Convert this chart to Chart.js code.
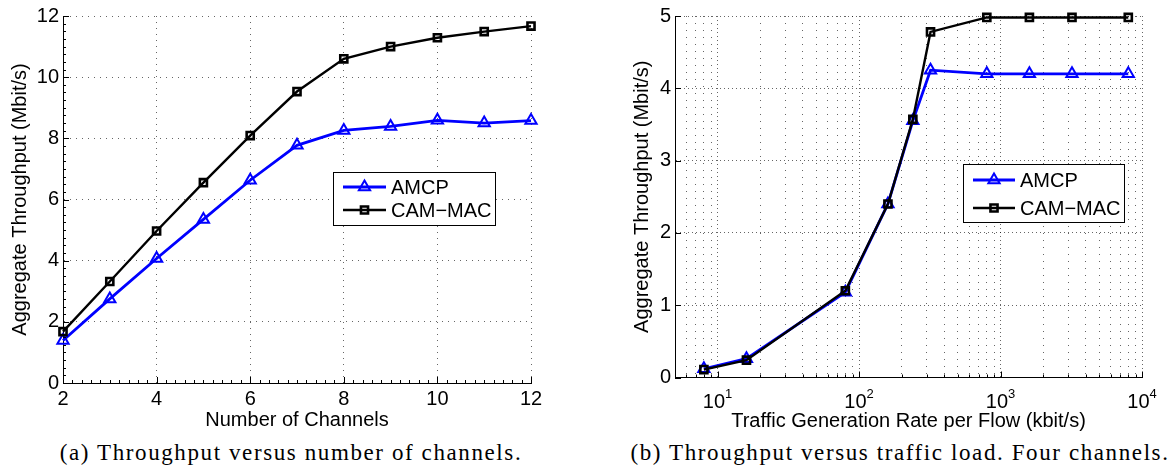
<!DOCTYPE html>
<html>
<head>
<meta charset="utf-8">
<title>Aggregate throughput</title>
<script src="https://cdn.jsdelivr.net/npm/chart.js@4"></script>
<style>
  body { margin: 0; background: #fff; width: 1174px; height: 473px; position: relative; overflow: hidden; }
  .panel { position: absolute; top: 0; width: 587px; height: 440px; }
  .caption {
    position: absolute; top: 440px; transform: translateX(-50%);
    font-family: "Liberation Serif", serif; font-size: 23px; letter-spacing: 1.6px;
    white-space: nowrap; color: #000;
  }
</style>
</head>
<body>
<div class="panel" style="left:0"><canvas id="channelChart"></canvas></div>
<div class="panel" style="left:587px"><canvas id="trafficChart"></canvas></div>
<div class="caption" style="left:291px">(a) Throughput versus number of channels.</div>
<div class="caption" style="left:900px">(b) Throughput versus traffic load. Four channels.</div>

<script>
// === (a) THROUGHPUT VS NUMBER OF CHANNELS ===
const channels = [2, 3, 4, 5, 6, 7, 8, 9, 10, 11, 12];
const amcpByChannel = [1.39, 2.75, 4.07, 5.35, 6.63, 7.77, 8.26, 8.39, 8.59, 8.50, 8.58];
const camByChannel = [1.68, 3.32, 4.97, 6.55, 8.09, 9.53, 10.60, 11.00, 11.29, 11.49, 11.67];
const channelTicks = [2, 4, 6, 8, 10, 12];
const throughputTicksA = [0, 2, 4, 6, 8, 10, 12];

// === (b) THROUGHPUT VS TRAFFIC LOAD (kbit/s, log axis) ===
const rates = [8, 16, 80, 160, 240, 320, 800, 1600, 3200, 8000];
const amcpByRate = [0.12, 0.26, 1.18, 2.40, 3.55, 4.25, 4.20, 4.20, 4.20, 4.20];
const camByRate = [0.11, 0.24, 1.20, 2.40, 3.57, 4.78, 4.98, 4.98, 4.98, 4.98];
const rateDecades = [10, 100, 1000, 10000];
const throughputTicksB = [0, 1, 2, 3, 4, 5];

const FONT = '"Liberation Sans", Arial, Helvetica, sans-serif';
Chart.defaults.font.family = FONT;
Chart.defaults.font.size = 20;
Chart.defaults.color = '#000';

function pairs(xs, ys) {
  return xs.map((x, i) => ({ x: x, y: ys[i] }));
}

// grid positions for a log axis: 1..9 in every decade
function logGridTicks(min, max) {
  let out = [];
  for (let e = Math.floor(Math.log10(min)); e <= Math.ceil(Math.log10(max)); e++) {
    for (let s = 1; s <= 9; s++) {
      let v = s * Math.pow(10, e);
      if (v >= min && v <= max) out.push({ value: v, major: s === 1 });
    }
  }
  return out;
}

// evenly spaced positions for small inward ticks
function stepMarks(min, max, step, len) {
  let out = [];
  let n = Math.round((max - min) / step);
  for (let i = 0; i <= n; i++) out.push({ value: min + i * step, len: len });
  return out;
}

// === PLUGIN: inward tick marks on the two axes ===
const innerTicks = {
  id: 'innerTicks',
  afterDraw(chart, args, opts) {
    const { ctx, chartArea: a, scales } = chart;
    ctx.save();
    ctx.strokeStyle = '#000';
    ctx.lineWidth = 1;
    ctx.beginPath();
    (opts.x || []).forEach(t => {
      let px = Math.round(scales.x.getPixelForValue(t.value)) + 0.5;
      ctx.moveTo(px, a.bottom);
      ctx.lineTo(px, a.bottom - t.len);
    });
    (opts.y || []).forEach(t => {
      let py = Math.round(scales.y.getPixelForValue(t.value)) + 0.5;
      ctx.moveTo(a.left, py);
      ctx.lineTo(a.left + t.len, py);
    });
    ctx.stroke();
    ctx.restore();
  }
};

// === PLUGIN: boxed legend inside the plot ===
const boxLegend = {
  id: 'boxLegend',
  afterDraw(chart, args, opts) {
    const ctx = chart.ctx;
    const { x, y, w, h, rows, sample, textX } = opts;
    ctx.save();
    ctx.fillStyle = '#fff';
    ctx.fillRect(x, y, w, h);
    ctx.strokeStyle = '#000';
    ctx.lineWidth = 1;
    ctx.strokeRect(x + 0.5, y + 0.5, w, h);

    chart.data.datasets.forEach((ds, i) => {
      let ry = y + rows[i];
      ctx.strokeStyle = ds.borderColor;
      ctx.lineWidth = ds.borderWidth;
      ctx.beginPath();
      ctx.moveTo(x + sample[0], ry);
      ctx.lineTo(x + sample[1], ry);
      ctx.stroke();

      ctx.fillStyle = ds.pointBackgroundColor;
      ctx.lineWidth = ds.pointBorderWidth;
      Chart.helpers.drawPoint(ctx, {
        pointStyle: ds.pointStyle, radius: ds.pointRadius,
        borderWidth: ds.pointBorderWidth, rotation: 0
      }, x + (sample[0] + sample[1]) / 2, ry);

      ctx.fillStyle = '#000';
      ctx.font = '20px ' + FONT;
      ctx.textBaseline = 'middle';
      ctx.textAlign = 'left';
      ctx.fillText(ds.label, x + textX, ry + 1);
    });
    ctx.restore();
  }
};

// === PLUGIN: 10^n labels under the log axis ===
const powerLabels = {
  id: 'powerLabels',
  afterDraw(chart, args, opts) {
    if (!opts.values) return;
    const { ctx, chartArea: a, scales } = chart;
    const big = '20px ' + FONT, small = '13px ' + FONT;
    ctx.save();
    ctx.fillStyle = '#000';
    ctx.textAlign = 'left';
    ctx.textBaseline = 'alphabetic';
    opts.values.forEach(v => {
      let exp = String(Math.round(Math.log10(v)));
      ctx.font = big;
      let bw = ctx.measureText('10').width;
      ctx.font = small;
      let ew = ctx.measureText(exp).width;
      let left = scales.x.getPixelForValue(v) - (bw + ew) / 2;
      let base = a.bottom + opts.baseline;
      ctx.font = big;
      ctx.fillText('10', left, base);
      ctx.font = small;
      ctx.fillText(exp, left + bw, base - 10);
    });
    ctx.restore();
  }
};

function seriesStyle(label, color, style, radius, lineW, markW, order) {
  return {
    label: label,
    borderColor: color,
    borderWidth: lineW,
    pointStyle: style,
    pointRadius: radius,
    pointBorderWidth: markW,
    pointBorderColor: color,
    pointBackgroundColor: 'rgba(0,0,0,0)',
    showLine: true,
    tension: 0,
    clip: false,
    order: order
  };
}

function gridDash(minorDash, majorDash) {
  return ctx => (ctx.tick && ctx.tick.major ? majorDash : minorDash);
}

// === CHART (a) ===
new Chart(document.getElementById('channelChart'), {
  type: 'scatter',
  data: {
    datasets: [
      Object.assign(seriesStyle('AMCP', '#0000ff', 'triangle', 6.5, 2.8, 2, 1), { data: pairs(channels, amcpByChannel) }),
      Object.assign(seriesStyle('CAM\u2212MAC', '#000000', 'rect', 5, 2.4, 2.6, 0), { data: pairs(channels, camByChannel) })
    ]
  },
  options: {
    responsive: true,
    maintainAspectRatio: false,
    animation: false,
    events: [],
    layout: { padding: { left: 0, right: 56, top: 14, bottom: 0 } },
    plugins: {
      legend: { display: false },
      tooltip: { enabled: false },
      boxLegend: { x: 333, y: 172, w: 162, h: 53, rows: [15, 38], sample: [10, 53], textX: 58 },
      innerTicks: {
        x: stepMarks(2, 12, 0.2, 3).concat(stepMarks(2, 12, 2, 6)),
        y: stepMarks(0, 12, 0.25, 3).concat(stepMarks(0, 12, 2, 6))
      }
    },
    scales: {
      x: {
        type: 'linear', min: 2, max: 12,
        afterBuildTicks: s => { s.ticks = channelTicks.map(v => ({ value: v })); },
        afterFit: s => { s.height = 57; },
        grid: { color: 'rgba(0,0,0,0.6)', lineWidth: 1, drawTicks: false },
        border: { display: true, color: '#000', width: 1, dash: [1, 5] },
        ticks: { padding: 4, maxRotation: 0 },
        title: { display: true, text: 'Number of Channels', padding: { top: 0, bottom: 8 } }
      },
      y: {
        type: 'linear', min: 0, max: 12,
        afterBuildTicks: s => { s.ticks = throughputTicksA.map(v => ({ value: v })); },
        afterFit: s => { s.width = 63; },
        grid: { color: 'rgba(0,0,0,0.6)', lineWidth: 1, drawTicks: false },
        border: { display: true, color: '#000', width: 1, dash: [1, 5] },
        ticks: { padding: 4 },
        title: { display: true, text: 'Aggregate Throughput (Mbit/s)', padding: { top: 8, bottom: 0 } }
      }
    }
  },
  plugins: [innerTicks, boxLegend]
});

// === CHART (b) ===
new Chart(document.getElementById('trafficChart'), {
  type: 'scatter',
  data: {
    datasets: [
      Object.assign(seriesStyle('AMCP', '#0000ff', 'triangle', 6.5, 2.8, 2, 1), { data: pairs(rates, amcpByRate) }),
      Object.assign(seriesStyle('CAM\u2212MAC', '#000000', 'rect', 5, 2.4, 2.6, 0), { data: pairs(rates, camByRate) })
    ]
  },
  options: {
    responsive: true,
    maintainAspectRatio: false,
    animation: false,
    events: [],
    layout: { padding: { left: 0, right: 32, top: 14, bottom: 0 } },
    plugins: {
      legend: { display: false },
      tooltip: { enabled: false },
      boxLegend: { x: 376, y: 164, w: 161, h: 58, rows: [16, 44], sample: [10, 52], textX: 57 },
      powerLabels: { values: rateDecades, baseline: 30 },
      innerTicks: {
        x: logGridTicks(5, 10000).map(t => ({ value: t.value, len: t.major ? 6 : 3 })),
        y: throughputTicksB.map(v => ({ value: v, len: 6 }))
      }
    },
    scales: {
      x: {
        type: 'logarithmic', min: 5, max: 10000,
        afterBuildTicks: s => { s.ticks = logGridTicks(5, 10000); },
        afterFit: s => { s.height = 62.5; },
        grid: { color: 'rgba(0,0,0,0.6)', lineWidth: 1, drawTicks: false },
        border: { display: true, color: '#000', width: 1, dash: gridDash([1, 6], [1, 3]) },
        ticks: { display: false },
        title: { display: true, text: 'Traffic Generation Rate per Flow (kbit/s)', padding: { top: 0, bottom: 7 } }
      },
      y: {
        type: 'linear', min: 0, max: 5,
        afterBuildTicks: s => { s.ticks = throughputTicksB.map(v => ({ value: v })); },
        afterFit: s => { s.width = 88; },
        grid: { color: 'rgba(0,0,0,0.6)', lineWidth: 1, drawTicks: false },
        border: { display: true, color: '#000', width: 1, dash: [1, 3] },
        ticks: { padding: 4 },
        title: { display: true, text: 'Aggregate Throughput (Mbit/s)', padding: { top: 43, bottom: 0 } }
      }
    }
  },
  plugins: [innerTicks, boxLegend, powerLabels]
});
</script>
</body>
</html>
